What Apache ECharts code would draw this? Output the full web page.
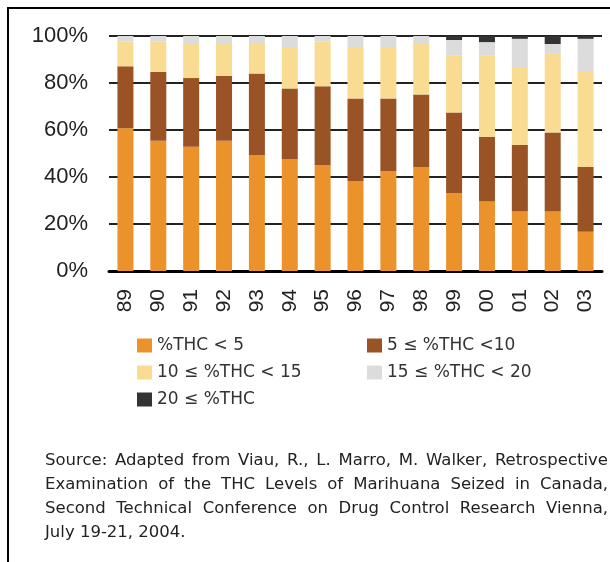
<!DOCTYPE html>
<html>
<head>
<meta charset="utf-8">
<script src="https://cdn.jsdelivr.net/npm/echarts@6/dist/echarts.min.js"></script>
<style>
  html, body { margin: 0; padding: 0; background: #fff; }
  #chart { width: 610px; height: 562px; }
</style>
</head>
<body>
<div id="chart"></div>
<script>
// years (two digits, as on the axis)
var years = ['89', '90', '91', '92', '93', '94', '95', '96', '97', '98', '99', '00', '01', '02', '03']
// share of samples per THC band, in %
var thcBelow5 = [60.7, 55.4, 52.9, 55.4, 49.4, 47.7, 45.1, 38.3, 42.6, 44.3, 33.1, 29.6, 25.3, 25.3, 16.7]
var thc5to10 = [26.4, 29.3, 29.2, 27.6, 34.6, 30.0, 33.5, 35.1, 30.8, 30.8, 34.3, 27.5, 28.3, 33.6, 27.6]
var thc10to15 = [10.5, 12.9, 14.5, 13.6, 12.6, 17.2, 19.0, 21.5, 21.5, 21.5, 24.2, 34.5, 32.8, 33.5, 40.4]
var thc15to20 = [2.4, 2.4, 3.4, 3.4, 3.4, 5.1, 2.4, 5.1, 5.1, 3.4, 6.7, 5.8, 12.4, 4.2, 14.1]
var thc20plus = [0, 0, 0, 0, 0, 0, 0, 0, 0, 0, 1.7, 2.6, 1.2, 3.4, 1.2]
var yTicks = [0, 20, 40, 60, 80, 100]

var bandNames = ['%THC < 5', '5 ≤ %THC <10', '10 ≤ %THC < 15', '15 ≤ %THC < 20', '20 ≤ %THC']
var bandColors = ['#ec922a', '#9a5325', '#f9dc91', '#dcdcdc', '#333333']
var bandData = [thcBelow5, thc5to10, thc10to15, thc15to20, thc20plus]

var sourceLines = [
  'Source: Adapted from Viau, R., L. Marro, M. Walker, Retrospective',
  'Examination of the THC Levels of Marihuana Seized in Canada,',
  'Second Technical Conference on Drug Control Research Vienna,',
  'July 19-21, 2004.'
]

var axisFont = 'Liberation Sans'
var bodyFont = 'DejaVu Sans'

// lay out the justified source note word by word
function sourceText() {
  var ctx = document.createElement('canvas').getContext('2d')
  var fontSize = 16.5
  ctx.font = fontSize + 'px "' + bodyFont + '"'
  var left = 45, right = 608, top = 461, lineGap = 24
  var els = []
  sourceLines.forEach(function(line, i) {
    var y = top + i * lineGap
    var words = line.split(' ')
    var last = i === sourceLines.length - 1
    var total = 0
    words.forEach(function(w) { total += ctx.measureText(w).width })
    var gap = last ? ctx.measureText(' ').width : (right - left - total) / (words.length - 1)
    var x = left
    words.forEach(function(w) {
      els.push({
        type: 'text',
        silent: true,
        style: { text: w, x: x, y: y, fill: '#222', fontSize: fontSize, fontFamily: bodyFont, verticalAlign: 'middle' }
      })
      x += ctx.measureText(w).width + gap
    })
  })
  return els
}

var chart = echarts.init(document.getElementById('chart'))

var series = bandNames.map(function(name, i) {
  return {
    name: name,
    type: 'bar',
    stack: 'thc',
    barWidth: 16,
    data: bandData[i],
    itemStyle: { color: bandColors[i] }
  }
})

var legendText = { fontSize: 17, fontFamily: bodyFont, color: '#333' }

var option = {
  animation: false,
  grid: { left: 109, right: 8, top: 36, bottom: 291, containLabel: false },
  legend: [
    {
      data: [bandNames[0], bandNames[2], bandNames[4]],
      orient: 'vertical', left: 137, top: 337, padding: 0,
      icon: 'rect', itemWidth: 15, itemHeight: 14, itemGap: 10,
      textStyle: legendText, selectedMode: false
    },
    {
      data: [bandNames[1], bandNames[3]],
      orient: 'vertical', left: 367, top: 337, padding: 0,
      icon: 'rect', itemWidth: 15, itemHeight: 14, itemGap: 10,
      textStyle: legendText, selectedMode: false
    }
  ],
  xAxis: {
    type: 'category',
    data: years,
    axisLine: { lineStyle: { color: '#000', width: 3 } },
    axisTick: { length: 9, lineStyle: { color: '#000', width: 3 } },
    axisLabel: { rotate: 90, interval: 0, margin: 18, fontSize: 21, fontFamily: axisFont, color: '#222' }
  },
  yAxis: {
    type: 'value',
    min: yTicks[0],
    max: yTicks[yTicks.length - 1],
    interval: yTicks[1] - yTicks[0],
    axisLine: { show: false },
    axisTick: { show: false },
    axisLabel: { formatter: '{value}%', margin: 21, fontSize: 22, fontFamily: axisFont, color: '#222' },
    splitLine: { lineStyle: { color: '#222', width: 2 } }
  },
  graphic: [
    {
      type: 'rect',
      silent: true,
      shape: { x: 8, y: 8, width: 720, height: 720 },
      style: { fill: 'none', stroke: '#000', lineWidth: 2 }
    }
  ].concat(sourceText()),
  series: series
}

chart.setOption(option)
</script>
</body>
</html>
